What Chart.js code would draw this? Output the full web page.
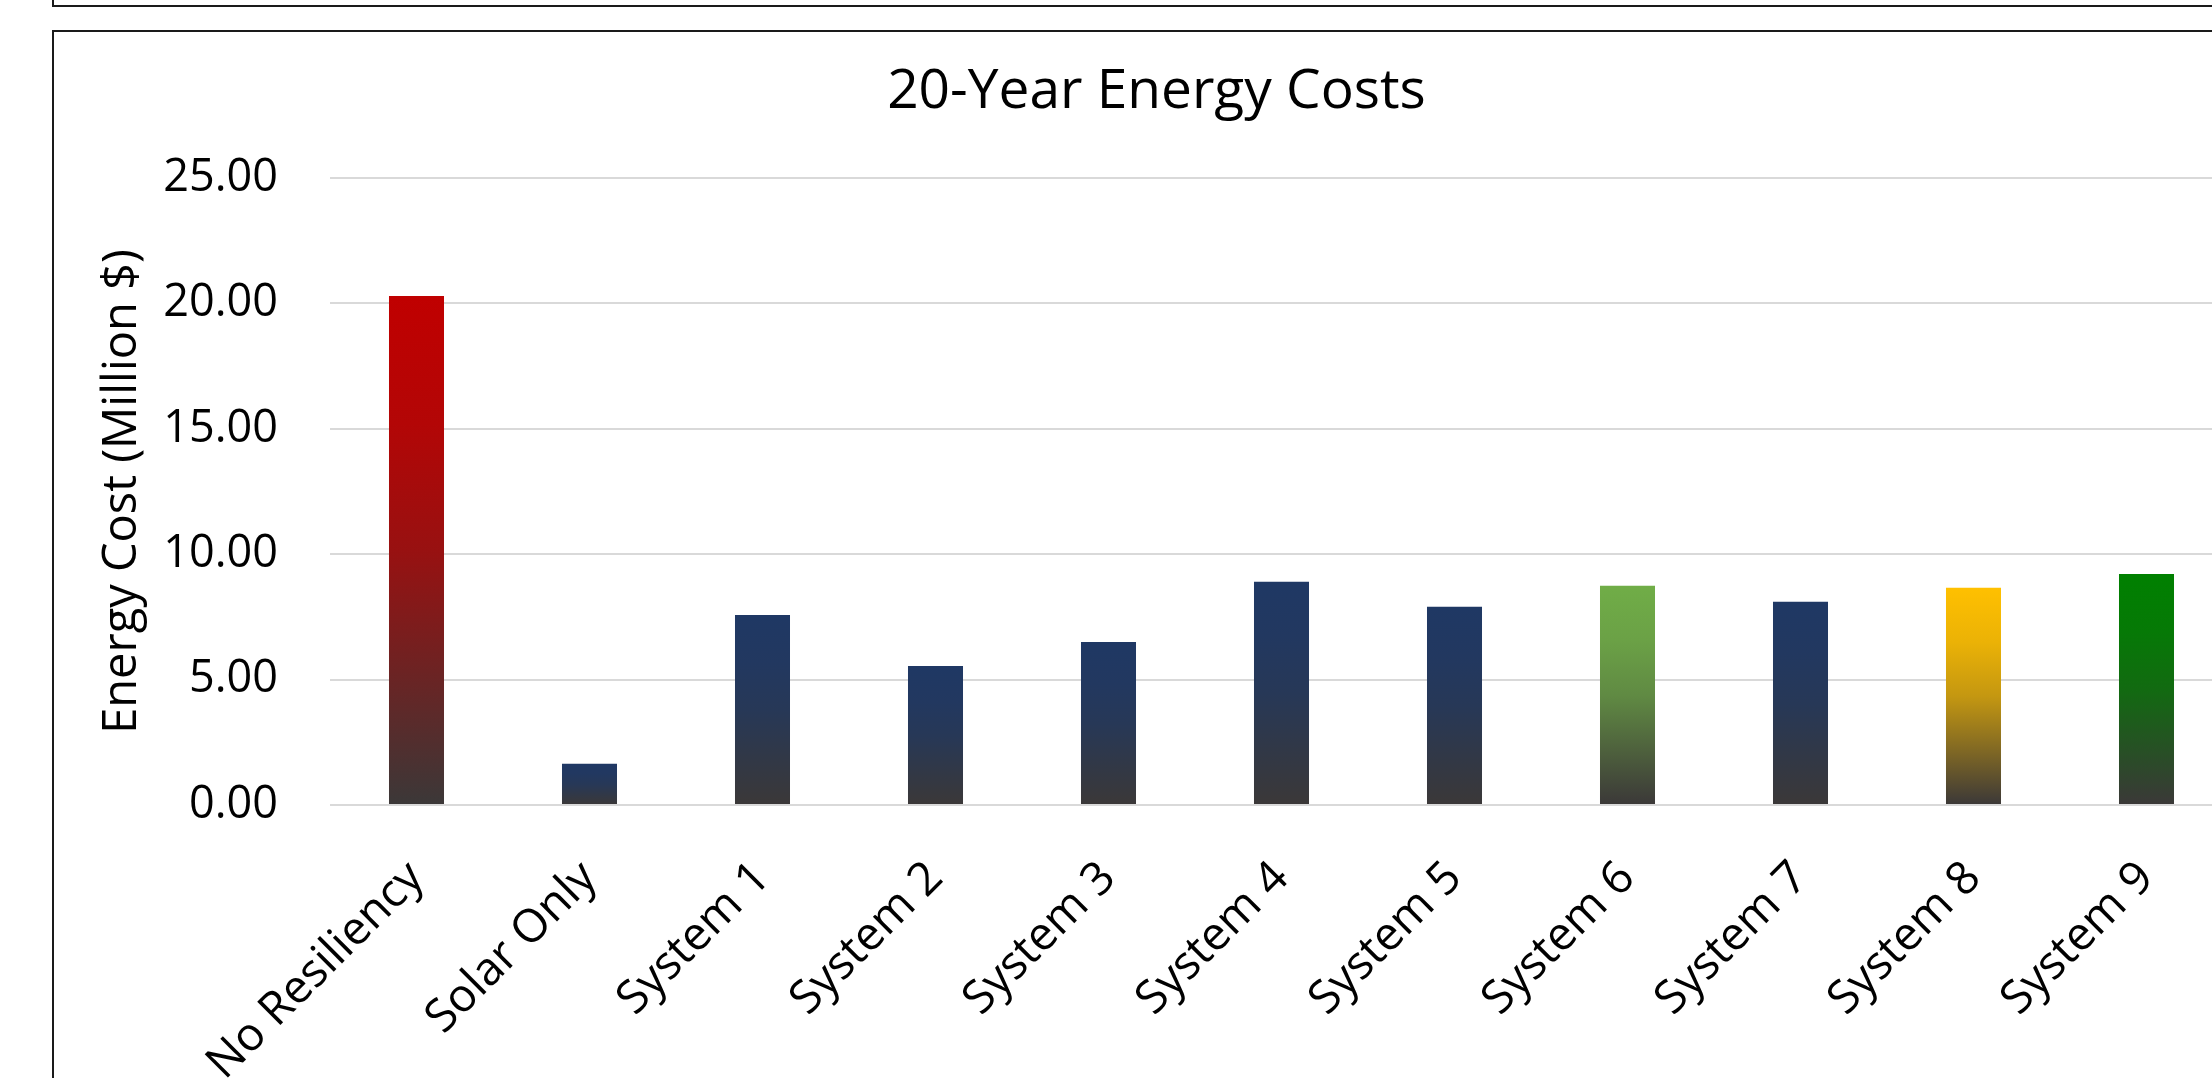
<!DOCTYPE html>
<html>
<head>
<meta charset="utf-8">
<title>20-Year Energy Costs</title>
<script src="https://cdn.jsdelivr.net/npm/chart.js@4.4.1/dist/chart.umd.min.js"></script>
<style>
    html, body {
        margin: 0;
        padding: 0;
        background: #fff;
        width: 2212px;
        height: 1078px;
        overflow: hidden;
    }
    .frame {
        position: absolute;
        border: 2px solid #1a1a1a;
        box-sizing: border-box;
    }
    #prevFrame { left: 52px; top: -40px; width: 2300px; height: 47px; }
    #mainFrame { left: 52px; top: 30px; width: 2300px; height: 1200px; }
    #chartWrap { position: absolute; left: 54px; top: 33px; width: 2205px; height: 1045px; }
</style>
</head>
<body>
<div class="frame" id="prevFrame"></div>
<div class="frame" id="mainFrame"></div>
<div id="chartWrap">
    <canvas id="costChart" width="2205" height="1045" style="width:2205px;height:1045px"></canvas>
</div>

<script>
// data
const categories = ["No Resiliency", "Solar Only", "System 1", "System 2", "System 3",
    "System 4", "System 5", "System 6", "System 7", "System 8", "System 9"];
const costs = [20.30, 1.64, 7.58, 5.54, 6.50, 8.90, 7.90, 8.74, 8.10, 8.66, 9.21];
const topColors = ["#C00000", "#1F3864", "#1F3864", "#1F3864", "#1F3864",
    "#1F3864", "#1F3864", "#70AD47", "#1F3864", "#FFC000", "#008000"];
const yTicks = [0, 5, 10, 15, 20, 25];

const FONT = "'Open Sans', 'Noto Sans', sans-serif";
const DARK = [59, 56, 56];

function hexToRgb(hex) {
    const n = parseInt(hex.slice(1), 16);
    return [(n >> 16) & 255, (n >> 8) & 255, n & 255];
}

function mix(a, b, t) {
    const c = a.map((v, i) => Math.round(v + (b[i] - v) * t));
    return `rgb(${c[0]}, ${c[1]}, ${c[2]})`;
}

// each bar fades from its own colour at the top into dark grey at the base
function barFill(context) {
    const chart = context.chart;
    const i = context.dataIndex;
    if (!chart.chartArea || i === undefined) return topColors[i] || topColors[0];
    const y = chart.scales.y;
    const top = y.getPixelForValue(costs[i]);
    const base = y.getPixelForValue(0);
    const rgb = hexToRgb(topColors[i]);
    const g = chart.ctx.createLinearGradient(0, top, 0, base);
    g.addColorStop(0, mix(rgb, DARK, 0));
    g.addColorStop(0.25, mix(rgb, DARK, 0.1));
    g.addColorStop(0.5, mix(rgb, DARK, 0.3));
    g.addColorStop(0.75, mix(rgb, DARK, 0.65));
    g.addColorStop(1, mix(rgb, DARK, 1));
    return g;
}

const ctx = document.getElementById("costChart");

new Chart(ctx, {
    type: "bar",
    data: {
        labels: categories,
        datasets: [{
            label: "Energy Cost",
            data: costs,
            backgroundColor: barFill,
            borderWidth: 0,
            barPercentage: 0.318,
            categoryPercentage: 1
        }]
    },
    options: {
        responsive: false,
        animation: false,
        layout: { padding: { left: 26, right: 26, top: 0, bottom: 0 } },
        plugins: {
            legend: { display: false },
            tooltip: { enabled: false },
            title: {
                display: true,
                text: "20-Year Energy Costs",
                color: "#000",
                font: { family: FONT, size: 55, weight: "normal" },
                padding: { top: 26, bottom: 53 }
            }
        },
        scales: {
            x: {
                grid: { display: false },
                border: { display: false },
                ticks: {
                    color: "#000",
                    font: { family: FONT, size: 46 },
                    maxRotation: 45,
                    minRotation: 45,
                    autoSkip: false,
                    padding: 38
                },
                afterFit(scale) { scale.height = 273; }
            },
            y: {
                min: yTicks[0],
                max: yTicks[yTicks.length - 1],
                ticks: {
                    stepSize: yTicks[1] - yTicks[0],
                    padding: 52,
                    color: "#000",
                    font: { family: FONT, size: 45 },
                    callback: v => v.toFixed(2)
                },
                grid: { color: "#d9d9d9", lineWidth: 2, drawTicks: false },
                border: { display: false },
                title: {
                    display: true,
                    text: "Energy Cost (Million $)",
                    color: "#000",
                    font: { family: FONT, size: 47 },
                    padding: { top: 14, bottom: 0 }
                },
                afterFit(scale) { scale.width = 250; }
            }
        }
    }
});
</script>
</body>
</html>
